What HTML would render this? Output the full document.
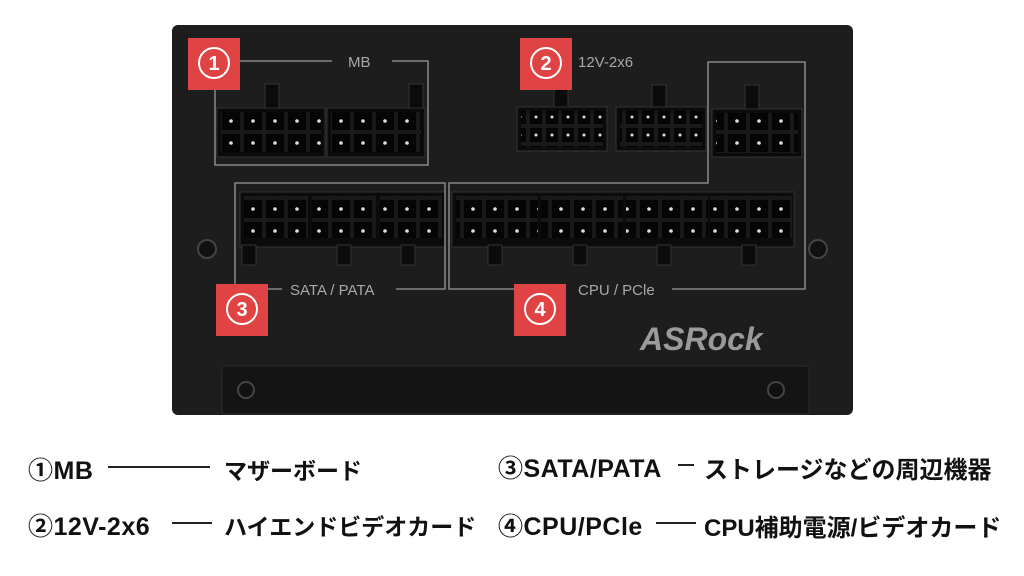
<!DOCTYPE html>
<html><head><meta charset="utf-8"><style>
body{margin:0;width:1024px;height:576px;background:#fff;overflow:hidden;position:relative;font-family:"Liberation Sans","Noto Sans CJK JP",sans-serif}
.t{position:absolute;font-weight:bold;font-size:23px;color:#111;white-space:nowrap;font-family:"Liberation Sans","Noto Sans CJK JP",sans-serif}
.l{font-size:25px;letter-spacing:0.5px}
.ln{position:absolute;height:1.5px;background:#222}
</style></head><body>
<svg width="1024" height="430" style="position:absolute;left:0;top:0" xmlns="http://www.w3.org/2000/svg">
<defs>
<pattern id="p" width="22" height="22" patternUnits="userSpaceOnUse"><rect x="1" y="1" width="20" height="20" fill="#050505" stroke="#2a2a2a"/><circle cx="11" cy="11" r="1.8" fill="#ddd"/></pattern>
<pattern id="q" width="16" height="18" patternUnits="userSpaceOnUse"><rect x="1" y="1" width="14" height="16" fill="#050505" stroke="#2a2a2a"/><circle cx="8" cy="9" r="1.5" fill="#ddd"/></pattern>
</defs>
<rect x="172" y="25" width="681" height="390" rx="6" fill="#1d1d1e"/>
<rect x="222" y="366" width="587" height="48" rx="3" fill="#141414" stroke="#2c2c2c"/>
<circle cx="207" cy="249" r="9" fill="#111" stroke="#444" stroke-width="2"/>
<circle cx="818" cy="249" r="9" fill="#111" stroke="#444" stroke-width="2"/>
<circle cx="246" cy="390" r="8" fill="#111" stroke="#444" stroke-width="2"/>
<circle cx="776" cy="390" r="8" fill="#111" stroke="#444" stroke-width="2"/>
<g fill="#0b0b0b" stroke="#333">
<rect x="265" y="84" width="14" height="24"/><rect x="409" y="84" width="14" height="24"/>
<rect x="217" y="108" width="108" height="49"/><rect x="327" y="108" width="98" height="49"/>
<rect x="554" y="85" width="14" height="24"/><rect x="652" y="85" width="14" height="24"/>
<rect x="517" y="107" width="90" height="44"/><rect x="616" y="107" width="90" height="44"/>
<rect x="745" y="85" width="14" height="26"/>
<rect x="712" y="109" width="90" height="48"/>
<rect x="240" y="192" width="205" height="55"/>
<rect x="452" y="192" width="342" height="55"/>
<rect x="242" y="245" width="14" height="20"/><rect x="337" y="245" width="14" height="20"/><rect x="401" y="245" width="14" height="20"/>
<rect x="488" y="245" width="14" height="20"/><rect x="573" y="245" width="14" height="20"/><rect x="657" y="245" width="14" height="20"/><rect x="742" y="245" width="14" height="20"/>
</g>
<rect x="221" y="112" width="100" height="40" fill="url(#p)"/>
<rect x="331" y="112" width="90" height="40" fill="url(#p)"/>
<rect x="521" y="111" width="82" height="36" fill="url(#q)"/>
<rect x="620" y="111" width="82" height="36" fill="url(#q)"/>
<rect x="716" y="113" width="82" height="40" fill="url(#p)"/>
<rect x="244" y="196" width="64" height="42" fill="url(#p)"/>
<rect x="312" y="196" width="64" height="42" fill="url(#p)"/>
<rect x="380" y="196" width="62" height="42" fill="url(#p)"/>
<rect x="456" y="196" width="82" height="42" fill="url(#p)"/>
<rect x="541" y="196" width="82" height="42" fill="url(#p)"/>
<rect x="626" y="196" width="82" height="42" fill="url(#p)"/>
<rect x="710" y="196" width="82" height="42" fill="url(#p)"/>
<g stroke="#9a9a9a" stroke-width="1.3" fill="none">
<polyline points="240,61 332,61"/><polyline points="392,61 428,61 428,165 215,165 215,90"/>
<polyline points="262,289 235,289 235,183 445,183 445,289 396,289"/>
<polyline points="248,289 282,289"/>
<polyline points="566,289 449,289 449,183 708,183 708,62 805,62 805,289 672,289"/>
</g>
<g font-family="Liberation Sans,sans-serif" font-size="15" fill="#a8a8a8">
<text x="348" y="67">MB</text><text x="578" y="67">12V-2x6</text>
<text x="290" y="295">SATA / PATA</text><text x="578" y="295">CPU / PCle</text>
</g>
<text x="640" y="350" font-family="Liberation Sans,sans-serif" font-weight="bold" font-style="italic" font-size="32" fill="#9a9a9a">ASRock</text>
<g fill="#e04343"><rect x="188" y="38" width="52" height="52"/><rect x="520" y="38" width="52" height="52"/><rect x="216" y="284" width="52" height="52"/><rect x="514" y="284" width="52" height="52"/></g>
<g fill="none" stroke="#fff" stroke-width="2"><circle cx="214" cy="63" r="15"/><circle cx="546" cy="63" r="15"/><circle cx="242" cy="309" r="15"/><circle cx="540" cy="309" r="15"/></g>
<g font-family="Liberation Sans,sans-serif" font-weight="bold" font-size="20" fill="#fff" text-anchor="middle">
<text x="214" y="70">1</text><text x="546" y="70">2</text><text x="242" y="316">3</text><text x="540" y="316">4</text></g>
</svg>
<div class="t l" style="left:28px;top:451px">①MB</div>
<div class="ln" style="left:108px;top:466px;width:102px"></div>
<div class="t" style="left:224px;top:452px">マザーボード</div>
<div class="t l" style="left:28px;top:507px">②12V-2x6</div>
<div class="ln" style="left:172px;top:522px;width:40px"></div>
<div class="t" style="left:224px;top:508px">ハイエンドビデオカード</div>
<div class="t l" style="left:498px;top:449px">③SATA/PATA</div>
<div class="ln" style="left:678px;top:464px;width:16px"></div>
<div class="t" style="left:704px;top:450px;font-size:24px">ストレージなどの周辺機器</div>
<div class="t l" style="left:498px;top:507px">④CPU/PCle</div>
<div class="ln" style="left:656px;top:522px;width:40px"></div>
<div class="t" style="left:704px;top:508px;font-size:24px">CPU補助電源/ビデオカード</div>
</body></html>
